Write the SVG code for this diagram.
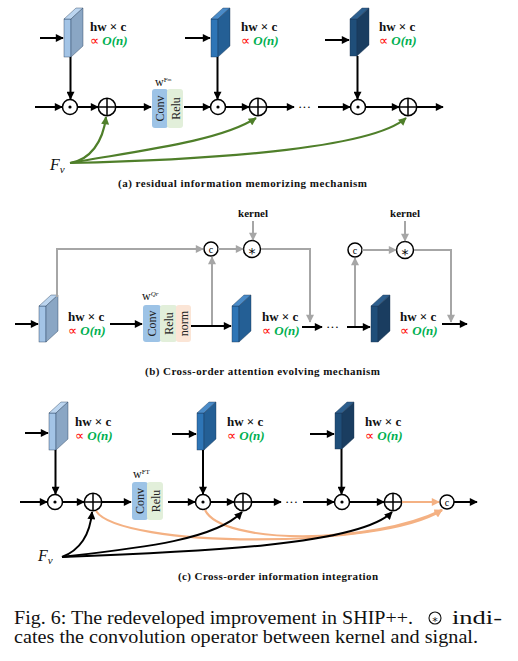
<svg xmlns="http://www.w3.org/2000/svg" width="518" height="661" viewBox="0 0 518 661">
<style>
.bg{fill:#fff}
.lt-l{fill:#a3c4e6}.lt-t{fill:#bcd5ef}.lt-r{fill:#8aa6c4}
.md-l{fill:#2e75b6}.md-t{fill:#4a8bc8}.md-r{fill:#245f95}
.dk-l{fill:#1f4e79}.dk-t{fill:#2d5f8e}.dk-r{fill:#1a3d60}
.blk{stroke:#1d3550;stroke-width:0.4}
.ln{fill:none;stroke:#000;stroke-width:2}
.gr{fill:none;stroke:#a6a6a6;stroke-width:2}
.gn{fill:none;stroke:#4f7f2a;stroke-width:2.2}
.or{fill:none;stroke:#f4b183;stroke-width:2.2}
.op{fill:#fff;stroke:#000;stroke-width:1.5}
.dot{fill:#000}
.conv{fill:#9dc3e6}.relu{fill:#e2efda}.norm{fill:#fbe5d6}
.bx{font-family:"Liberation Serif",serif;font-size:12px;fill:#222}
.hw{font-family:"Liberation Serif",serif;font-size:13px;font-weight:bold;fill:#111}
.prop{font-family:"Liberation Serif",serif;font-size:13px;fill:#ff0000}
.on{font-family:"Liberation Serif",serif;font-size:13px;font-weight:bold;font-style:italic;fill:#00b050}
.cap{font-family:"Liberation Serif",serif;font-size:11px;font-weight:bold;fill:#111}
.w{font-family:"Liberation Serif",serif;font-size:12px;fill:#111}
.fv{font-family:"Liberation Serif",serif;font-size:16px;font-style:italic;fill:#111}
.sym{font-family:"Liberation Serif",serif;font-size:10px;fill:#000;text-anchor:middle}
.ast{font-family:"DejaVu Sans",sans-serif;font-size:14px;fill:#000;text-anchor:middle}
.dots{font-family:"Liberation Serif",serif;font-size:13px;fill:#000}
.fig{font-family:"Liberation Serif",serif;font-size:18px;fill:#111}
</style>
<defs>
<marker id="ab" viewBox="0 0 10 10" refX="9" refY="5" markerWidth="9" markerHeight="8" markerUnits="userSpaceOnUse" orient="auto"><path d="M0,0 L10,5 L0,10 z" fill="#000"/></marker>
<marker id="ag" viewBox="0 0 10 10" refX="9" refY="5" markerWidth="9" markerHeight="8" markerUnits="userSpaceOnUse" orient="auto"><path d="M0,0 L10,5 L0,10 z" fill="#a6a6a6"/></marker>
<marker id="agn" viewBox="0 0 10 10" refX="9" refY="5" markerWidth="9" markerHeight="8" markerUnits="userSpaceOnUse" orient="auto"><path d="M0,0 L10,5 L0,10 z" fill="#4f7f2a"/></marker>
<marker id="ao" viewBox="0 0 10 10" refX="9" refY="5" markerWidth="9" markerHeight="8" markerUnits="userSpaceOnUse" orient="auto"><path d="M0,0 L10,5 L0,10 z" fill="#f4b183"/></marker>
</defs>
<rect class="bg" x="0" y="0" width="518" height="661"/>

<!-- ===== (a) ===== -->
<g id="a-block1" class="blk">
<rect class="lt-l" x="64" y="19" width="7" height="38"/>
<polygon class="lt-t" points="64,19 76,8 83,8 71,19"/>
<polygon class="lt-r" points="71,19 83,8 83,46 71,57"/>
</g>
<g id="a-label1"><text class="hw" x="90" y="31">hw × c</text><text x="90" y="45"><tspan class="prop">∝ </tspan><tspan class="on">O(n)</tspan></text></g>
<g id="a-block2" class="blk">
<rect class="md-l" x="211" y="19" width="7" height="38"/>
<polygon class="md-t" points="211,19 223,8 230,8 218,19"/>
<polygon class="md-r" points="218,19 230,8 230,46 218,57"/>
</g>
<g id="a-label2"><text class="hw" x="241" y="31">hw × c</text><text x="241" y="45"><tspan class="prop">∝ </tspan><tspan class="on">O(n)</tspan></text></g>
<g id="a-block3" class="blk">
<rect class="dk-l" x="350" y="19" width="7" height="37"/>
<polygon class="dk-t" points="350,19 362,8 369,8 357,19"/>
<polygon class="dk-r" points="357,19 369,8 369,45 357,56"/>
</g>
<g id="a-label3"><text class="hw" x="379" y="31">hw × c</text><text x="379" y="45"><tspan class="prop">∝ </tspan><tspan class="on">O(n)</tspan></text></g>
<g id="a-box">
<rect class="conv" x="152" y="89" width="16" height="39" rx="3"/>
<rect class="relu" x="167" y="89" width="16" height="39" rx="3"/>
<text class="bx" transform="translate(164,108.5) rotate(-90)" text-anchor="middle">Conv</text>
<text class="bx" transform="translate(179.5,108.5) rotate(-90)" text-anchor="middle">Relu</text>
<text class="w" x="155" y="86">w<tspan font-size="7" dy="-4">F</tspan><tspan font-size="5" dy="-1">m</tspan></text>
</g>
<g id="a-odot1"><circle class="op" cx="70" cy="107" r="7.5"/><circle class="dot" cx="70" cy="107" r="1.6"/></g>
<g id="a-oplus1"><circle class="op" cx="107" cy="107" r="8.7"/><path d="M98.3,107 H115.7 M107,98.3 V115.7" stroke="#000" stroke-width="1.5"/></g>
<g id="a-odot2"><circle class="op" cx="218" cy="107" r="7.5"/><circle class="dot" cx="218" cy="107" r="1.6"/></g>
<g id="a-oplus2"><circle class="op" cx="258" cy="107" r="8.7"/><path d="M249.3,107 H266.7 M258,98.3 V115.7" stroke="#000" stroke-width="1.5"/></g>
<g id="a-odot3"><circle class="op" cx="358" cy="107" r="7.5"/><circle class="dot" cx="358" cy="107" r="1.6"/></g>
<g id="a-oplus3"><circle class="op" cx="408" cy="107" r="8.7"/><path d="M399.3,107 H416.7 M408,98.3 V115.7" stroke="#000" stroke-width="1.5"/></g>
<g id="a-fv"><text class="fv" x="50" y="170">F<tspan font-size="11" dy="3">v</tspan></text></g>
<text class="dots" x="298" y="111">···</text>
<g id="a-connectors">
<path class="ln" d="M40,38 H63" marker-end="url(#ab)"/>
<path class="ln" d="M185,38 H210" marker-end="url(#ab)"/>
<path class="ln" d="M325,40 H349" marker-end="url(#ab)"/>
<path class="ln" d="M70.5,57 V99" marker-end="url(#ab)"/>
<path class="ln" d="M217.5,57 V99" marker-end="url(#ab)"/>
<path class="ln" d="M357.5,56 V99" marker-end="url(#ab)"/>
<path class="ln" d="M35,107 H62" marker-end="url(#ab)"/>
<path class="ln" d="M78,107 H98" marker-end="url(#ab)"/>
<path class="ln" d="M116,107 H151" marker-end="url(#ab)"/>
<path class="ln" d="M184,107 H210" marker-end="url(#ab)"/>
<path class="ln" d="M226,107 H249" marker-end="url(#ab)"/>
<path class="ln" d="M267,107 H294" marker-end="url(#ab)"/>
<path class="ln" d="M318,107 H350" marker-end="url(#ab)"/>
<path class="ln" d="M366,107 H399" marker-end="url(#ab)"/>
<path class="ln" d="M417,107 H443" marker-end="url(#ab)"/>
<path class="gn" d="M70,163 C90,160 103,142 106,117" marker-end="url(#agn)"/>
<path class="gn" d="M70,163 C130,152 220,142 256,118" marker-end="url(#agn)"/>
<path class="gn" d="M70,163 C200,160 370,150 406,118" marker-end="url(#agn)"/>
</g>
<text class="cap" x="118" y="187" textLength="249">(a) residual information memorizing mechanism</text>

<!-- ===== (b) ===== -->
<g id="b-block1" class="blk">
<rect class="lt-l" x="39" y="306" width="7" height="36"/>
<polygon class="lt-t" points="39,306 51,295 58,295 46,306"/>
<polygon class="lt-r" points="46,306 58,295 58,331 46,342"/>
</g>
<g id="b-label1"><text class="hw" x="68" y="321">hw × c</text><text x="68" y="335"><tspan class="prop">∝ </tspan><tspan class="on">O(n)</tspan></text></g>
<g id="b-box">
<rect class="conv" x="143" y="305" width="18" height="37" rx="3"/>
<rect class="relu" x="160" y="305" width="17" height="37" rx="3"/>
<rect class="norm" x="176" y="305" width="15" height="37" rx="3"/>
<text class="bx" transform="translate(156,323.5) rotate(-90)" text-anchor="middle">Conv</text>
<text class="bx" transform="translate(172.5,323.5) rotate(-90)" text-anchor="middle">Relu</text>
<text class="bx" transform="translate(187.5,323.5) rotate(-90)" text-anchor="middle">norm</text>
<text class="w" x="142" y="300">w<tspan font-size="7" font-style="italic" dy="-4">Qr</tspan></text>
</g>
<g id="b-block2" class="blk">
<rect class="md-l" x="232" y="306" width="7" height="36"/>
<polygon class="md-t" points="232,306 244,295 251,295 239,306"/>
<polygon class="md-r" points="239,306 251,295 251,331 239,342"/>
</g>
<g id="b-label2"><text class="hw" x="262" y="321">hw × c</text><text x="262" y="335"><tspan class="prop">∝ </tspan><tspan class="on">O(n)</tspan></text></g>
<g id="b-block3" class="blk">
<rect class="dk-l" x="371" y="306" width="7" height="36"/>
<polygon class="dk-t" points="371,306 383,295 390,295 378,306"/>
<polygon class="dk-r" points="378,306 390,295 390,331 378,342"/>
</g>
<g id="b-label3"><text class="hw" x="400" y="321">hw × c</text><text x="400" y="335"><tspan class="prop">∝ </tspan><tspan class="on">O(n)</tspan></text></g>
<g id="b-c1"><circle class="op" cx="211" cy="249" r="7"/><text class="sym" x="211" y="252.5">c</text></g>
<g id="b-conv1"><circle class="op" cx="252" cy="249" r="8.5"/><text class="ast" x="252" y="257.5">*</text></g>
<g id="b-kernel1"><text class="cap" x="253" y="217" text-anchor="middle">kernel</text></g>
<g id="b-c2"><circle class="op" cx="355" cy="250" r="7"/><text class="sym" x="355" y="253.5">c</text></g>
<g id="b-conv2"><circle class="op" cx="405" cy="250" r="8.5"/><text class="ast" x="405" y="258.5">*</text></g>
<g id="b-kernel2"><text class="cap" x="405" y="217" text-anchor="middle">kernel</text></g>
<text class="dots" x="326" y="331">···</text>
<g id="b-connectors">
<path class="gr" d="M57,297 V249 H203" marker-end="url(#ag)"/>
<path class="gr" d="M218,249 H243" marker-end="url(#ag)"/>
<path class="gr" d="M253,221 V240" marker-end="url(#ag)"/>
<path class="gr" d="M261,249 H310 V322" marker-end="url(#ag)"/>
<path class="gr" d="M212,326 V257" marker-end="url(#ag)"/>
<path class="gr" d="M355,327 V258" marker-end="url(#ag)"/>
<path class="gr" d="M362,250 H396" marker-end="url(#ag)"/>
<path class="gr" d="M405,221 V241" marker-end="url(#ag)"/>
<path class="gr" d="M414,250 H451 V322" marker-end="url(#ag)"/>
<path class="ln" d="M15,324 H38" marker-end="url(#ab)"/>
<path class="ln" d="M110,324 H142" marker-end="url(#ab)"/>
<path class="ln" d="M191,326 H231" marker-end="url(#ab)"/>
<path class="ln" d="M302,327 H322" marker-end="url(#ab)"/>
<path class="ln" d="M347,327 H370" marker-end="url(#ab)"/>
<path class="ln" d="M442,324 H467" marker-end="url(#ab)"/>
</g>
<text class="cap" x="145" y="375" textLength="235">(b) Cross-order attention evolving mechanism</text>

<!-- ===== (c) ===== -->
<g id="c-block1" class="blk">
<rect class="lt-l" x="49" y="413" width="7" height="37"/>
<polygon class="lt-t" points="49,413 61,402 68,402 56,413"/>
<polygon class="lt-r" points="56,413 68,402 68,439 56,450"/>
</g>
<g id="c-label1"><text class="hw" x="75" y="426">hw × c</text><text x="75" y="440"><tspan class="prop">∝ </tspan><tspan class="on">O(n)</tspan></text></g>
<g id="c-block2" class="blk">
<rect class="md-l" x="197" y="413" width="7" height="37"/>
<polygon class="md-t" points="197,413 209,402 216,402 204,413"/>
<polygon class="md-r" points="204,413 216,402 216,439 204,450"/>
</g>
<g id="c-label2"><text class="hw" x="227" y="426">hw × c</text><text x="227" y="440"><tspan class="prop">∝ </tspan><tspan class="on">O(n)</tspan></text></g>
<g id="c-block3" class="blk">
<rect class="dk-l" x="335" y="413" width="7" height="36"/>
<polygon class="dk-t" points="335,413 347,402 354,402 342,413"/>
<polygon class="dk-r" points="342,413 354,402 354,438 342,449"/>
</g>
<g id="c-label3"><text class="hw" x="365" y="426">hw × c</text><text x="365" y="440"><tspan class="prop">∝ </tspan><tspan class="on">O(n)</tspan></text></g>
<g id="c-box">
<rect class="conv" x="132" y="482" width="16" height="38" rx="3"/>
<rect class="relu" x="147" y="482" width="16" height="38" rx="3"/>
<text class="bx" transform="translate(144,501) rotate(-90)" text-anchor="middle">Conv</text>
<text class="bx" transform="translate(159.5,501) rotate(-90)" text-anchor="middle">Relu</text>
<text class="w" x="133" y="478">w<tspan font-size="7" dy="-4">FT</tspan></text>
</g>
<g id="c-odot1"><circle class="op" cx="55" cy="502" r="7.5"/><circle class="dot" cx="55" cy="502" r="1.6"/></g>
<g id="c-oplus1"><circle class="op" cx="93" cy="502" r="8.7"/><path d="M84.3,502 H101.7 M93,493.3 V510.7" stroke="#000" stroke-width="1.5"/></g>
<g id="c-odot2"><circle class="op" cx="203" cy="502" r="7.5"/><circle class="dot" cx="203" cy="502" r="1.6"/></g>
<g id="c-oplus2"><circle class="op" cx="243" cy="502" r="8.7"/><path d="M234.3,502 H251.7 M243,493.3 V510.7" stroke="#000" stroke-width="1.5"/></g>
<g id="c-odot3"><circle class="op" cx="342" cy="502" r="7.5"/><circle class="dot" cx="342" cy="502" r="1.6"/></g>
<g id="c-oplus3"><circle class="op" cx="393" cy="502" r="8.7"/><path d="M384.3,502 H401.7 M393,493.3 V510.7" stroke="#000" stroke-width="1.5"/></g>
<g id="c-concat"><circle class="op" cx="447" cy="502" r="7"/><text class="sym" x="447" y="505.5">c</text></g>
<g id="c-fv"><text class="fv" x="38" y="561">F<tspan font-size="11" dy="3">v</tspan></text></g>
<text class="dots" x="285" y="506">···</text>
<g id="c-connectors">
<path class="or" d="M96,511 C120,548 380,550 442,510" marker-end="url(#ao)"/>
<path class="or" d="M205,510 C222,545 370,545 442,510" marker-end="url(#ao)"/>
<path class="ln" d="M62,557 C80,550 90,535 92,512" marker-end="url(#ab)"/>
<path class="ln" d="M62,557 C140,548 215,540 242,512" marker-end="url(#ab)"/>
<path class="ln" d="M62,557 C200,552 360,545 392,512" marker-end="url(#ab)"/>
<path class="ln" d="M25,433 H48" marker-end="url(#ab)"/>
<path class="ln" d="M172,434 H196" marker-end="url(#ab)"/>
<path class="ln" d="M310,434 H334" marker-end="url(#ab)"/>
<path class="ln" d="M55.5,450 V494" marker-end="url(#ab)"/>
<path class="ln" d="M203,450 V494" marker-end="url(#ab)"/>
<path class="ln" d="M341.5,449 V494" marker-end="url(#ab)"/>
<path class="ln" d="M20,502 H47" marker-end="url(#ab)"/>
<path class="ln" d="M63,502 H84" marker-end="url(#ab)"/>
<path class="ln" d="M102,502 H131" marker-end="url(#ab)"/>
<path class="ln" d="M168,502 H195" marker-end="url(#ab)"/>
<path class="ln" d="M211,502 H234" marker-end="url(#ab)"/>
<path class="ln" d="M252,502 H281" marker-end="url(#ab)"/>
<path class="ln" d="M303,502 H334" marker-end="url(#ab)"/>
<path class="ln" d="M350,502 H384" marker-end="url(#ab)"/>
<path class="or" d="M402,502 H439" marker-end="url(#ao)"/>
<path class="ln" d="M454,502 H477" marker-end="url(#ab)"/>
</g>
<text class="cap" x="178" y="580" textLength="200">(c) Cross-order information integration</text>

<!-- ===== figure caption ===== -->
<text class="fig" x="14" y="624" textLength="399" lengthAdjust="spacingAndGlyphs">Fig. 6: The redeveloped improvement in SHIP++.</text>
<circle cx="435" cy="618" r="6" fill="none" stroke="#111" stroke-width="1.1"/>
<text x="435" y="624.5" font-family="DejaVu Sans,sans-serif" font-size="11" text-anchor="middle" fill="#111">*</text>
<text class="fig" x="452" y="624" textLength="50" lengthAdjust="spacingAndGlyphs">indi-</text>
<text class="fig" x="14" y="643" textLength="464" lengthAdjust="spacingAndGlyphs">cates the convolution operator between kernel and signal.</text>
</svg>
